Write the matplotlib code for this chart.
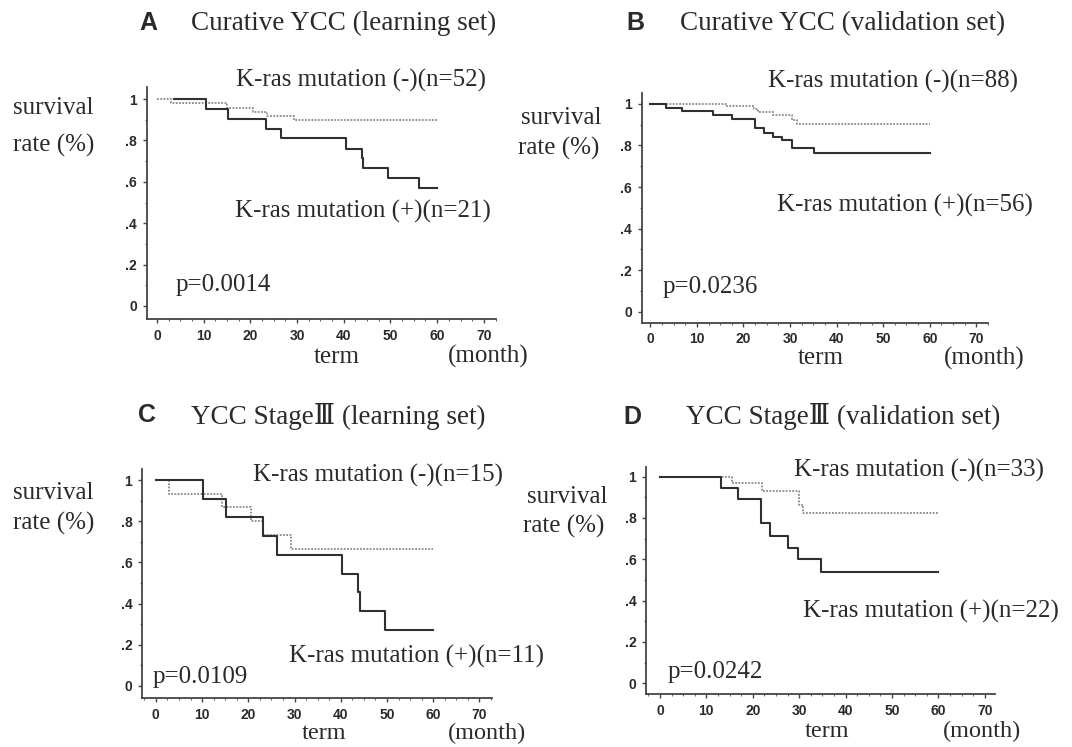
import matplotlib
matplotlib.use("Agg")
import matplotlib.pyplot as plt
from matplotlib.ticker import MultipleLocator, FixedLocator

W, H = 1072, 747

# ---------------- data ----------------
panel_letters = ["A", "B", "C", "D"]
panel_titles = ["Curative YCC (learning set)", "Curative YCC (validation set)",
                "YCC Stage\u2162 (learning set)", "YCC Stage\u2162 (validation set)"]
neg_labels = ["K-ras mutation (-)(n=52)", "K-ras mutation (-)(n=88)",
              "K-ras mutation (-)(n=15)", "K-ras mutation (-)(n=33)"]
pos_labels = ["K-ras mutation (+)(n=21)", "K-ras mutation (+)(n=56)",
              "K-ras mutation (+)(n=11)", "K-ras mutation (+)(n=22)"]
p_values = ["p=0.0014", "p=0.0236", "p=0.0109", "p=0.0242"]

# A: curative YCC, learning set
a_neg_t = [0, 3.1, 14.9, 20.6, 23.5, 29.4, 60]
a_neg_s = [1.0, 0.983, 0.958, 0.940, 0.920, 0.899, 0.899]
a_pos_t = [3.6, 10.4, 15.3, 23.3, 26.5, 40.4, 43.8, 44.2, 49.5, 56.1, 60]
a_pos_s = [1.0, 0.952, 0.905, 0.857, 0.810, 0.757, 0.714, 0.667, 0.619, 0.571, 0.571]

# B: curative YCC, validation set
b_neg_t = [0, 16.3, 22.3, 23.2, 26.4, 30.4, 31.4, 60]
b_neg_s = [1.0, 0.989, 0.975, 0.960, 0.945, 0.925, 0.902, 0.902]
b_pos_t = [0, 3.4, 6.7, 13.5, 17.5, 22.5, 24.4, 26.4, 28.2, 30.4, 35.1, 60]
b_pos_s = [1.0, 0.982, 0.964, 0.945, 0.926, 0.885, 0.860, 0.843, 0.825, 0.790, 0.765, 0.765]

# C: YCC stage III, learning set
c_neg_t = [0, 2.9, 14.4, 20.5, 23.1, 29.3, 60]
c_neg_s = [1.0, 0.933, 0.867, 0.800, 0.733, 0.667, 0.667]
c_pos_t = [0, 10.1, 15.1, 23.2, 26.1, 40.3, 43.7, 44.2, 49.5, 60]
c_pos_s = [1.0, 0.909, 0.818, 0.727, 0.636, 0.545, 0.455, 0.364, 0.273, 0.273]

# D: YCC stage III, validation set
d_neg_t = [0, 15.6, 21.9, 30.0, 30.9, 60]
d_neg_s = [1.0, 0.970, 0.930, 0.862, 0.825, 0.825]
d_pos_t = [0, 13.1, 16.9, 21.7, 23.7, 27.6, 29.8, 34.7, 60]
d_pos_s = [1.0, 0.945, 0.893, 0.775, 0.712, 0.656, 0.600, 0.540, 0.540]

neg_t = [a_neg_t, b_neg_t, c_neg_t, d_neg_t]
neg_s = [a_neg_s, b_neg_s, c_neg_s, d_neg_s]
pos_t = [a_pos_t, b_pos_t, c_pos_t, d_pos_t]
pos_s = [a_pos_s, b_pos_s, c_pos_s, d_pos_s]

x_ticks = [0, 10, 20, 30, 40, 50, 60, 70]
y_ticks = [0, 0.2, 0.4, 0.6, 0.8, 1.0]
y_ticklabels = ["0", ".2", ".4", ".6", ".8", "1"]

# ---------------- layout (pixels) ----------------
# axes box: left, right, top, bottom (px) ; xlim ; ylim
boxes = [
    (146.7, 496.0, 87.3, 319.0, (-2.2, 72.6), (-0.063, 1.057)),
    (641.5, 988.0, 92.7, 322.7, (-1.9, 72.5), (-0.053, 1.054)),
    (142.0, 492.4, 469.3, 698.3, (-3.0, 72.8), (-0.060, 1.052)),
    (646.0, 995.0, 466.7, 694.0, (-3.0, 72.2), (-0.052, 1.048)),
]

SERIF = ["Liberation Serif", "DejaVu Serif", "Noto Sans CJK JP"]
TICKFONT = ["Liberation Sans Narrow", "Liberation Sans", "DejaVu Sans"]
INK = "#2a2a2a"

fig = plt.figure(figsize=(W / 100, H / 100), dpi=100)
fig.patch.set_facecolor("white")


def ftext(x, y, s, size=18, ha="left", va="center", family=SERIF, weight="normal"):
    fig.text(x / W, 1 - y / H, s, fontsize=size, ha=ha, va=va,
             family=family, weight=weight, color=INK)


for i in range(4):
    l, r, t, b, xl, yl = boxes[i]
    ax = fig.add_axes([l / W, 1 - b / H, (r - l) / W, (b - t) / H])
    ax.set_xlim(*xl)
    ax.set_ylim(*yl)
    for sp in ["top", "right"]:
        ax.spines[sp].set_visible(False)
    for sp in ["left", "bottom"]:
        ax.spines[sp].set_color("#444444")
        ax.spines[sp].set_linewidth(1.3)
    ax.xaxis.set_major_locator(FixedLocator(x_ticks))
    ax.xaxis.set_minor_locator(MultipleLocator(2.5))
    ax.yaxis.set_major_locator(FixedLocator(y_ticks))
    ax.yaxis.set_minor_locator(MultipleLocator(0.1))
    ax.set_yticklabels(y_ticklabels)
    ax.tick_params(axis="both", which="major", length=3, width=1, color="#444444",
                   labelsize=10, labelcolor=INK, pad=4)
    ax.tick_params(axis="both", which="minor", length=1.5, width=0.8, color="#666666")
    for lab in ax.get_xticklabels() + ax.get_yticklabels():
        lab.set_family(TICKFONT)
        lab.set_fontweight("bold")
    ax.step(neg_t[i], neg_s[i], where="post", color="#8a8a8a", lw=1.3,
            linestyle=(0, (1, 0.8)))
    ax.step(pos_t[i], pos_s[i], where="post", color="#303030", lw=1.5)
    ax.patch.set_alpha(0)

# ---------------- texts (pixels) ----------------
# panel letters + titles
ftext(148.8, 23.5, "A", size=18, ha="center", family=["Liberation Sans", "DejaVu Sans"], weight="bold")
ftext(191, 23.5, panel_titles[0], size=19.5)
ftext(635.4, 22.5, "B", size=18, ha="center", family=["Liberation Sans", "DejaVu Sans"], weight="bold")
ftext(680.4, 23.5, panel_titles[1], size=19.5)
ftext(147.4, 415.5, "C", size=18, ha="center", family=["Liberation Sans", "DejaVu Sans"], weight="bold")
ftext(191, 416.7, panel_titles[2], size=19.5)
ftext(632.0, 416.7, "D", size=18, ha="center", family=["Liberation Sans", "DejaVu Sans"], weight="bold")
ftext(685.5, 416.7, panel_titles[3], size=19.5)

# group labels
ftext(236, 80.7, neg_labels[0])
ftext(235, 211.7, pos_labels[0])
ftext(768.5, 81.7, neg_labels[1])
ftext(777, 205, pos_labels[1])
ftext(253, 475, neg_labels[2])
ftext(289, 656.7, pos_labels[2])
ftext(794.4, 470, neg_labels[3])
ftext(803, 611.7, pos_labels[3])

# p-values
ftext(175.6, 285, p_values[0])
ftext(663, 286.7, p_values[1])
ftext(153, 676.7, p_values[2])
ftext(668, 671.7, p_values[3])

# y labels
ftext(13, 108, "survival")
ftext(13, 145.7, "rate (%)")
ftext(601, 118, "survival", ha="right")
ftext(599, 148, "rate (%)", ha="right")
ftext(13, 493.3, "survival")
ftext(13, 523.3, "rate (%)")
ftext(607.8, 496.7, "survival", ha="right")
ftext(604, 526.7, "rate (%)", ha="right")

# x labels
ftext(336.5, 356.7, "term", ha="center")
ftext(488, 356.7, "(month)", ha="center")
ftext(820.5, 358, "term", ha="center")
ftext(984.6, 358, "(month)", ha="center")
ftext(323.7, 733.5, "term", ha="center", size=17.5)
ftext(487, 733.5, "(month)", ha="center", size=17.5)
ftext(827, 731.5, "term", ha="center", size=17.5)
ftext(982, 731.5, "(month)", ha="center", size=17.5)

fig.savefig("out.png", dpi=100, facecolor="white")
